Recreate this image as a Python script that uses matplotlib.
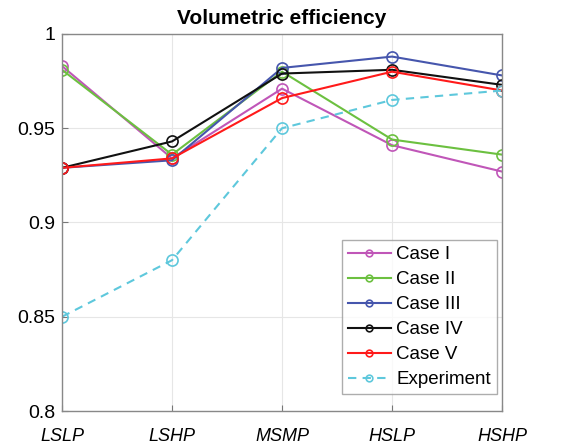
import matplotlib
matplotlib.use("Agg")
import matplotlib.pyplot as plt

categories = ["LSLP", "LSHP", "MSMP", "HSLP", "HSHP"]
case1 = [0.983, 0.934, 0.971, 0.941, 0.927]
case2 = [0.981, 0.936, 0.980, 0.944, 0.936]
case3 = [0.929, 0.933, 0.982, 0.988, 0.978]
case4 = [0.929, 0.943, 0.979, 0.981, 0.973]
case5 = [0.929, 0.934, 0.966, 0.980, 0.970]
experiment = [0.850, 0.880, 0.950, 0.965, 0.970]
yticks = [0.8, 0.85, 0.9, 0.95, 1.0]
ytick_labels = ["0.8", "0.85", "0.9", "0.95", "1"]

plt.rcParams['font.family'] = ['Liberation Sans', 'DejaVu Sans']

fig = plt.figure(figsize=(5.61, 4.47), dpi=100)
ax = fig.add_axes([0.1105, 0.0805, 0.7845, 0.8435])
x = list(range(len(categories)))

series = [
    ("Case I", case1, "#c056b8", "-"),
    ("Case II", case2, "#6cc040", "-"),
    ("Case III", case3, "#4656ad", "-"),
    ("Case IV", case4, "#111111", "-"),
    ("Case V", case5, "#ff1a1a", "-"),
    ("Experiment", experiment, "#5ec8dc", (0, (4, 3))),
]
for name, vals, col, ls in series:
    ax.plot(x, vals, color=col, linestyle=ls, linewidth=1.5, marker="o",
            markersize=8, markerfacecolor="none", markeredgecolor=col,
            markeredgewidth=1.2, label=name)

ax.set_xlim(0, 4)
ax.set_ylim(0.8, 1.0)
ax.set_xticks(x)
ax.set_xticklabels(categories, fontstyle="italic", fontsize=13)
ax.set_yticks(yticks)
ax.set_yticklabels(ytick_labels, fontsize=14)
ax.tick_params(direction="in", length=4, color="#777777")
ax.tick_params(axis="x", pad=12)
ax.tick_params(axis="y", pad=5)
ax.grid(True, color="#e6e6e6", linewidth=0.8)
ax.set_axisbelow(True)
for s in ax.spines.values():
    s.set_color("#888888")
    s.set_linewidth(1.0)
ax.set_title("Volumetric efficiency", fontsize=15, fontweight="bold", pad=7)

leg = ax.legend(loc="lower right", fontsize=13.5, frameon=True, fancybox=False,
                edgecolor="#999999", handlelength=2.3, handletextpad=0.3,
                borderpad=0.3, labelspacing=0.42, markerscale=0.6,
                bbox_to_anchor=(1.009, 0.021))
leg.get_frame().set_linewidth(1.0)

fig.savefig("out.png", dpi=100)
